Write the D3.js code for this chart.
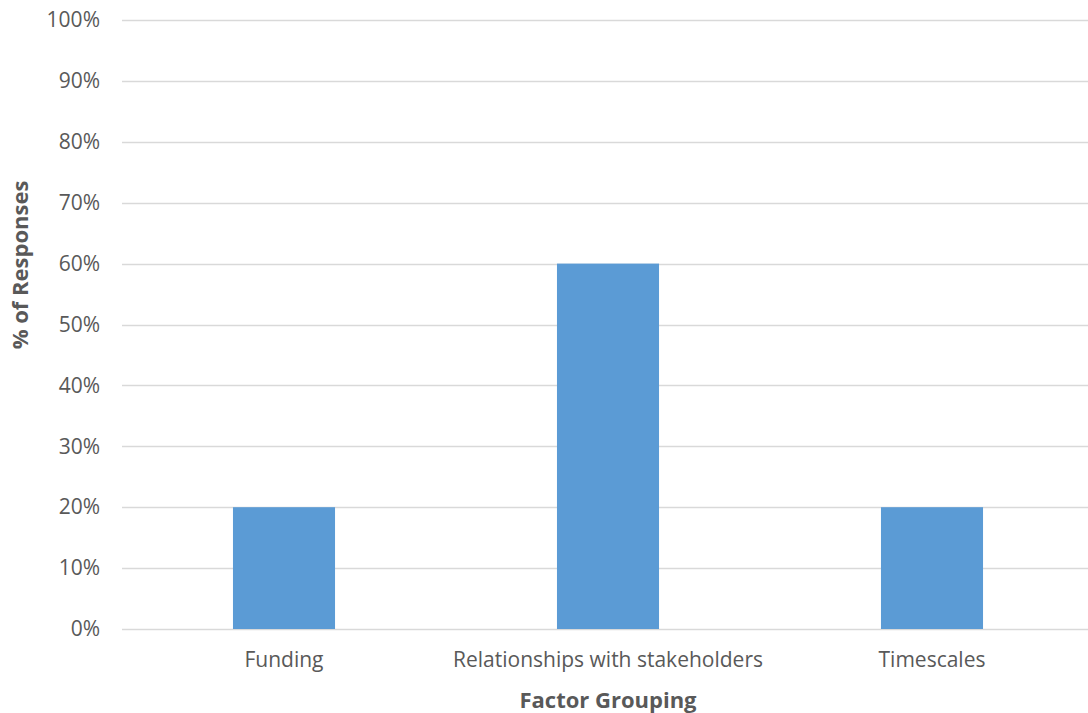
<!DOCTYPE html>
<html><head><meta charset="utf-8">
<script src="https://cdn.jsdelivr.net/npm/d3@7"></script>
<style>body{margin:0;background:#fff;} svg{display:block;}</style>
</head><body>
<svg id="chart" width="1088" height="713"></svg>
<script>
const categories = ["Funding", "Relationships with stakeholders", "Timescales"];
const values = [0.20, 0.60, 0.20];
const yTicks = [0, 0.1, 0.2, 0.3, 0.4, 0.5, 0.6, 0.7, 0.8, 0.9, 1.0];
const xTitle = "Factor Grouping";
const yTitle = "% of Responses";

const svg = d3.select("#chart");
const font = "'Open Sans', 'Liberation Sans', sans-serif";
const pLeft = 122, pRight = 1094, pTop = 20, pBottom = 629;

const x = d3.scaleBand().domain(categories).range([pLeft, pRight]).paddingInner(0.685).paddingOuter(0.3425);
const y = d3.scaleLinear().domain([0, 1]).range([pBottom, pTop]);

// gridlines
svg.append("g").selectAll("line").data(yTicks).join("line")
  .attr("x1", pLeft).attr("x2", pRight)
  .attr("y1", d => Math.round(y(d)) + 0.5).attr("y2", d => Math.round(y(d)) + 0.5)
  .attr("stroke", "#d9d9d9").attr("stroke-width", 1.5);

// y axis labels
const yAxis = d3.axisLeft(y).tickValues(yTicks).tickFormat(d3.format(".0%")).tickSize(0).tickPadding(22);
const ya = svg.append("g").attr("transform", `translate(${pLeft},0)`).call(yAxis);
ya.select(".domain").remove();
ya.selectAll("text").attr("font-family", font).attr("font-size", 21).attr("fill", "#595959");

// bars
svg.append("g").selectAll("rect").data(values).join("rect")
  .attr("x", (d, i) => x(categories[i]))
  .attr("width", x.bandwidth())
  .attr("y", d => y(d))
  .attr("height", d => y(0) - y(d))
  .attr("fill", "#5b9bd5");

// x axis labels
const xAxis = d3.axisBottom(x).tickSize(0).tickPadding(23);
const xa = svg.append("g").attr("transform", `translate(0,${pBottom})`).call(xAxis);
xa.select(".domain").remove();
xa.selectAll("text").attr("font-family", font).attr("font-size", 21).attr("fill", "#595959");

// titles
svg.append("text").attr("x", 608).attr("y", 708)
  .attr("text-anchor", "middle").attr("font-family", font).attr("font-size", 22)
  .attr("font-weight", "bold").attr("fill", "#595959").text(xTitle);
svg.append("text").attr("transform", `translate(28,265) rotate(-90)`)
  .attr("text-anchor", "middle").attr("font-family", font).attr("font-size", 22)
  .attr("font-weight", "bold").attr("fill", "#595959").text(yTitle);
</script>
</body></html>
